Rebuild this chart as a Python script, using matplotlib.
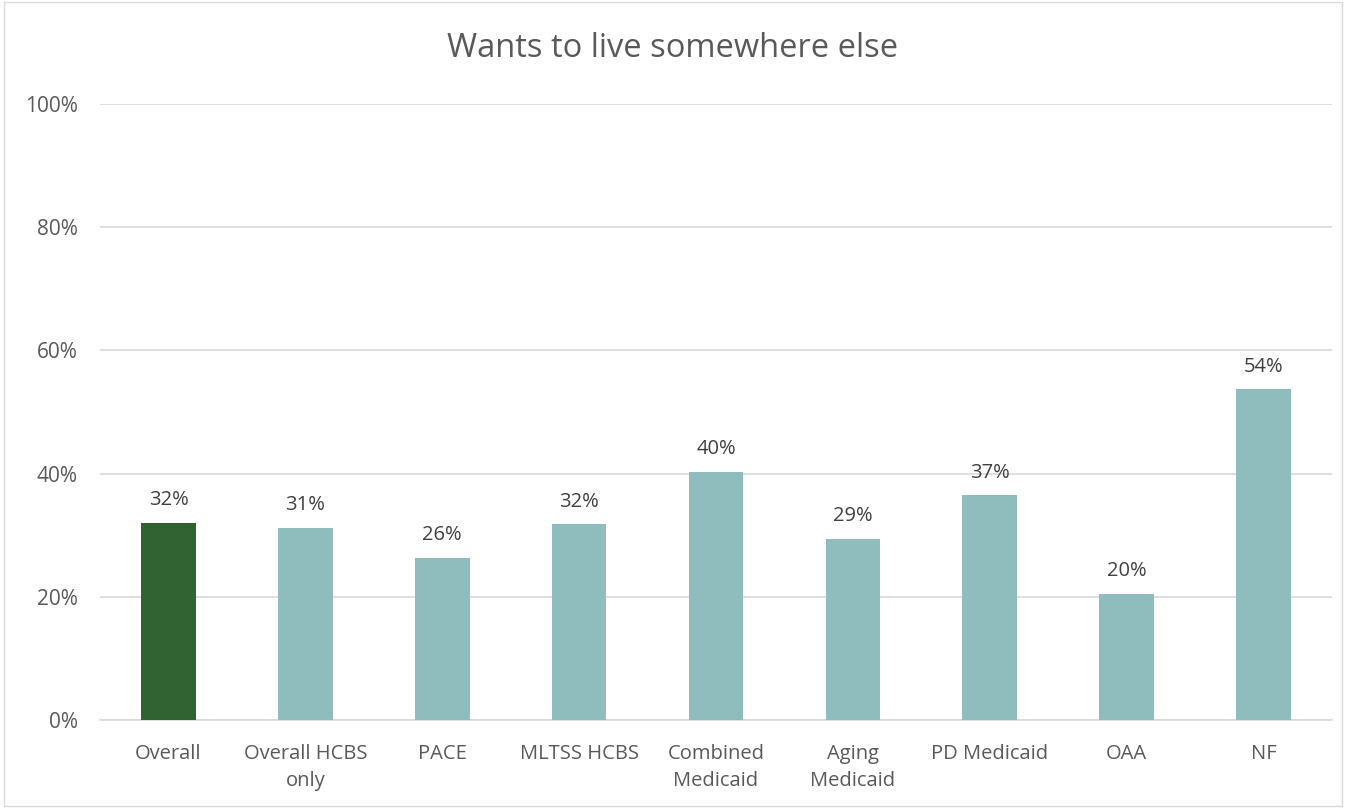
import matplotlib.pyplot as plt
from matplotlib.patches import Rectangle

# Chart data
categories = ['Overall', 'Overall HCBS\nonly', 'PACE', 'MLTSS HCBS', 'Combined\nMedicaid',
              'Aging\nMedicaid', 'PD Medicaid', 'OAA', 'NF']
values = [32.0, 31.2, 26.3, 31.8, 40.3, 29.4, 36.5, 20.5, 53.7]
labels = ['32%', '31%', '26%', '32%', '40%', '29%', '37%', '20%', '54%']
yticks = [0, 20, 40, 60, 80, 100]

plt.rcParams['font.family'] = ['Open Sans', 'DejaVu Sans']
text_color = '#595959'

fig = plt.figure(figsize=(13.46, 8.08), dpi=100)
ax = fig.add_axes([0.0743, 0.1089, 0.9153, 0.7624])

colors = ['#316232'] + ['#8fbdbd'] * (len(values) - 1)
x = range(len(categories))
ax.bar(x, values, width=0.4, color=colors, zorder=3)

for i, (v, lab) in enumerate(zip(values, labels)):
    ax.annotate(lab, (i, v), xytext=(0, 9), textcoords='offset points',
                ha='center', va='bottom', fontsize=14.5, color='#404040')

ax.set_xlim(-0.5, len(categories) - 0.5)
ax.set_ylim(0, 100)
ax.set_yticks(yticks)
ax.set_yticklabels([f'{t}%' for t in yticks])
ax.set_xticks(list(x))
ax.set_xticklabels(categories, linespacing=1.5)
ax.tick_params(axis='both', length=0, labelcolor=text_color)
ax.tick_params(axis='y', pad=16, labelsize=15)
ax.tick_params(axis='x', pad=17, labelsize=14.5)

ax.grid(axis='y', color='#d9d9d9', linewidth=1.2, zorder=0)
for s in ['top', 'right', 'left']:
    ax.spines[s].set_visible(False)
ax.spines['bottom'].set_color('#d9d9d9')
ax.spines['bottom'].set_linewidth(1.2)

fig.text(0.5, 0.94, 'Wants to live somewhere else', ha='center', va='center',
         fontsize=23.5, color=text_color)

# light border around the chart
fig.patches.append(Rectangle((0.003, 0.003), 0.994, 0.994, transform=fig.transFigure,
                             fill=False, edgecolor='#d9d9d9', linewidth=1))

fig.savefig('out.png', dpi=100)
